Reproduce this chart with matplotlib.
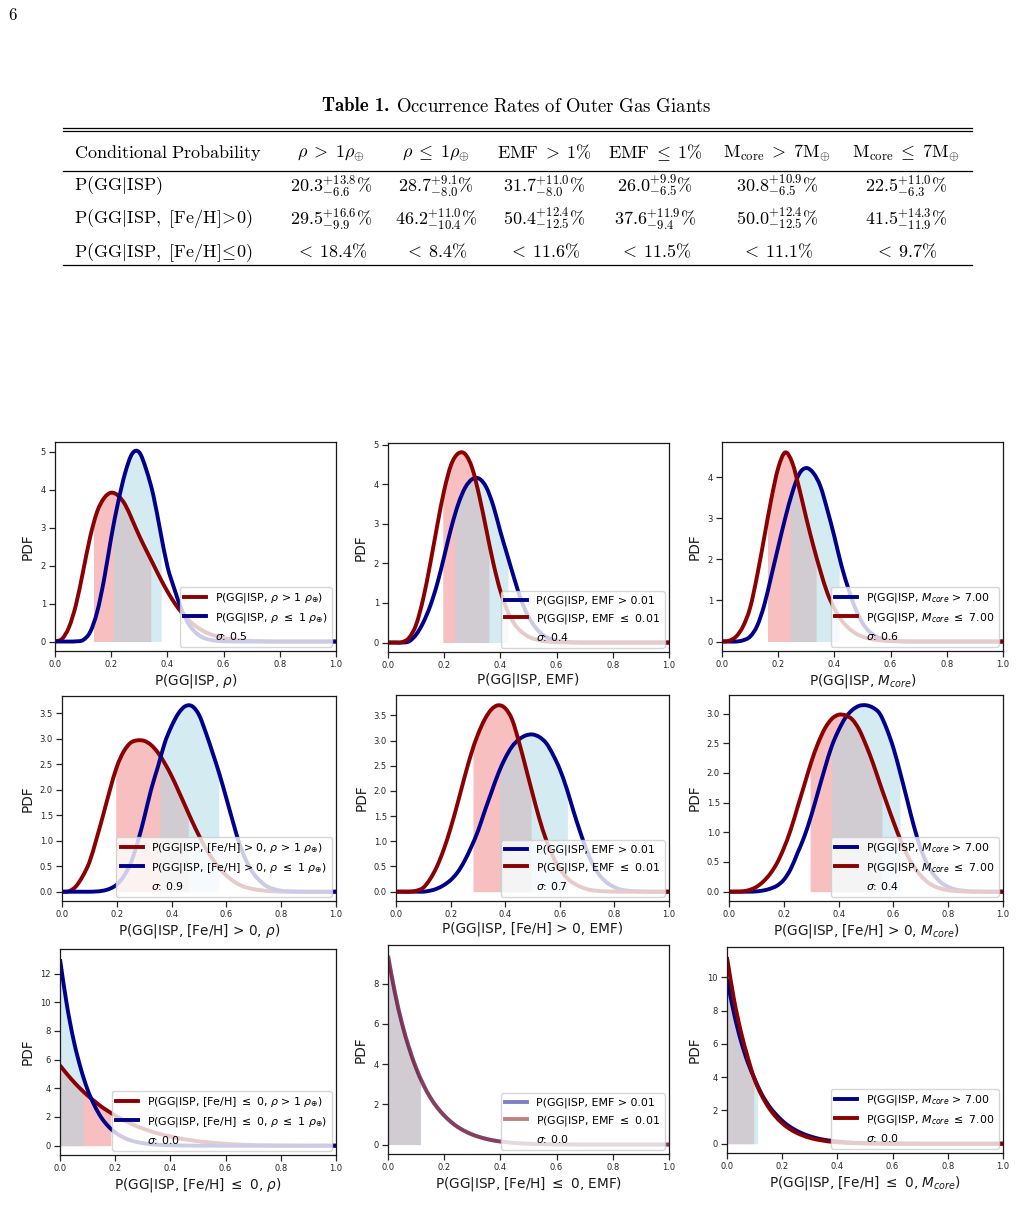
import numpy as np
import matplotlib
matplotlib.use('Agg')
import matplotlib.pyplot as plt
from matplotlib.lines import Line2D
from matplotlib.path import Path
from matplotlib.patches import PathPatch

# ---------------- table data ----------------
TABLE_TITLE_BOLD = 'Table 1.'
TABLE_TITLE_REST = r'$\mathrm{Occurrence\ Rates\ of\ Outer\ Gas\ Giants}$'
TABLE_HEADER = [r'$\mathrm{Conditional\ Probability}$', r'$\rho\;>\;1\rho_{\oplus}$',
                r'$\rho\;\leq\;1\rho_{\oplus}$', r'$\mathrm{EMF}\;>\;1\%$', r'$\mathrm{EMF}\;\leq\;1\%$',
                r'$\mathrm{M_{core}}\;>\;7\mathrm{M}_{\oplus}$', r'$\mathrm{M_{core}}\;\leq\;7\mathrm{M}_{\oplus}$']
ROW_LABELS = [r'$\mathrm{P(GG|ISP)}$', r'$\mathrm{P(GG|ISP,\ [Fe/H]\!>\!0)}$',
              r'$\mathrm{P(GG|ISP,\ [Fe/H]\!\leq\!0)}$']
MED_ALL = [20.3, 28.7, 31.7, 26.0, 30.8, 22.5]
PLUS_ALL = [13.8, 9.1, 11.0, 9.9, 10.9, 11.0]
MINUS_ALL = [6.6, 8.0, 8.0, 6.5, 6.5, 6.3]
MED_FEH = [29.5, 46.2, 50.4, 37.6, 50.0, 41.5]
PLUS_FEH = [16.6, 11.0, 12.4, 11.9, 12.4, 14.3]
MINUS_FEH = [9.9, 10.4, 12.5, 9.4, 12.5, 11.9]
UL_LOWFEH = [18.4, 8.4, 11.6, 11.5, 11.1, 9.7]

# ---------------- PDF curves ----------------
X = [0.0, 0.025, 0.05, 0.075, 0.1, 0.125, 0.15, 0.175, 0.2, 0.225, 0.25, 0.275, 0.3, 0.325,
     0.35, 0.375, 0.4, 0.425, 0.45, 0.475, 0.5, 0.525, 0.55, 0.575, 0.6, 0.625, 0.65, 0.675,
     0.7, 0.725, 0.75, 0.775, 0.8, 0.825, 0.85, 0.875, 0.9, 0.925, 0.95, 0.975, 1.0]

# row 1 : P(GG|ISP, ...)
PDF_RHO_HI = [0, 0.07, 0.38, 0.98, 1.85, 2.75, 3.42, 3.78, 3.92, 3.84, 3.6, 3.2, 2.78, 2.4,
              2.03, 1.66, 1.32, 1.02, 0.77, 0.57, 0.41, 0.29, 0.2, 0.14, 0.09, 0.06, 0.04, 0.025,
              0.015, 0.01, 0.005, 0.002, 0, 0, 0, 0, 0, 0, 0, 0, 0]
PDF_RHO_LO = [0, 0, 0, 0.005, 0.04, 0.25, 0.78, 1.65, 2.74, 3.68, 4.45, 4.95, 4.98, 4.52,
              3.85, 2.9, 1.98, 1.38, 0.85, 0.47, 0.24, 0.11, 0.05, 0.02, 0.008, 0.003, 0, 0,
              0, 0, 0, 0, 0, 0, 0, 0, 0, 0, 0, 0, 0]
PDF_EMF_HI = [0, 0, 0, 0.03, 0.2, 0.5, 0.92, 1.48, 2.18, 2.9, 3.5, 3.92, 4.13, 4.14,
              3.92, 3.45, 2.8, 2.2, 1.6, 1.05, 0.65, 0.38, 0.2, 0.1, 0.05, 0.02, 0.01, 0.003,
              0, 0, 0, 0, 0, 0, 0, 0, 0, 0, 0, 0, 0]
PDF_EMF_LO = [0, 0, 0.01, 0.12, 0.45, 1.1, 1.98, 2.95, 3.85, 4.5, 4.78, 4.76, 4.4, 3.7,
              2.85, 2.0, 1.3, 0.8, 0.47, 0.27, 0.15, 0.08, 0.04, 0.02, 0.01, 0.005, 0, 0,
              0, 0, 0, 0, 0, 0, 0, 0, 0, 0, 0, 0, 0]
PDF_MC_HI = [0, 0, 0, 0.03, 0.12, 0.38, 0.88, 1.58, 2.3, 3.0, 3.62, 4.08, 4.22, 4.1,
             3.78, 3.2, 2.55, 1.85, 1.28, 0.8, 0.45, 0.24, 0.12, 0.055, 0.025, 0.01, 0.004, 0,
             0, 0, 0, 0, 0, 0, 0, 0, 0, 0, 0, 0, 0]
PDF_MC_LO = [0, 0.02, 0.12, 0.37, 0.82, 1.6, 2.52, 3.45, 4.22, 4.6, 4.35, 3.72, 3.0, 2.33,
             1.72, 1.18, 0.8, 0.52, 0.33, 0.2, 0.12, 0.07, 0.04, 0.02, 0.01, 0.005, 0, 0,
             0, 0, 0, 0, 0, 0, 0, 0, 0, 0, 0, 0, 0]

# row 2 : P(GG|ISP, [Fe/H] > 0, ...)
PDF_FEH_RHO_HI = [0, 0.01, 0.1, 0.3, 0.58, 1.02, 1.5, 2.0, 2.45, 2.75, 2.92, 2.97, 2.96, 2.88,
                  2.73, 2.52, 2.27, 1.98, 1.68, 1.38, 1.1, 0.85, 0.64, 0.46, 0.32, 0.21, 0.13, 0.08,
                  0.05, 0.03, 0.015, 0.008, 0.003, 0, 0, 0, 0, 0, 0, 0, 0]
PDF_FEH_RHO_LO = [0, 0, 0, 0, 0, 0.005, 0.02, 0.06, 0.14, 0.3, 0.55, 0.95, 1.45, 2.0,
                  2.45, 2.92, 3.25, 3.5, 3.64, 3.64, 3.47, 3.12, 2.72, 2.3, 1.83, 1.35, 0.9, 0.58,
                  0.35, 0.2, 0.1, 0.05, 0.02, 0.008, 0.003, 0, 0, 0, 0, 0, 0]
PDF_FEH_EMF_HI = [0, 0, 0, 0, 0, 0.02, 0.06, 0.13, 0.23, 0.38, 0.6, 0.88, 1.2, 1.6,
                  1.98, 2.35, 2.65, 2.88, 3.02, 3.1, 3.12, 3.07, 2.95, 2.72, 2.43, 2.05, 1.6, 1.18,
                  0.8, 0.5, 0.3, 0.17, 0.09, 0.04, 0.02, 0.008, 0.003, 0, 0, 0, 0]
PDF_FEH_EMF_LO = [0, 0, 0, 0.02, 0.08, 0.25, 0.5, 0.84, 1.26, 1.74, 2.25, 2.73, 3.12, 3.42,
                  3.62, 3.7, 3.64, 3.42, 2.98, 2.47, 1.95, 1.45, 1.03, 0.7, 0.45, 0.28, 0.17, 0.1,
                  0.05, 0.025, 0.01, 0.005, 0, 0, 0, 0, 0, 0, 0, 0, 0]
PDF_FEH_MC_HI = [0, 0, 0, 0, 0.005, 0.02, 0.05, 0.1, 0.2, 0.38, 0.65, 0.93, 1.28, 1.68,
                 2.08, 2.45, 2.72, 2.93, 3.06, 3.13, 3.14, 3.1, 3.0, 2.75, 2.42, 2.0, 1.55, 1.1,
                 0.72, 0.45, 0.27, 0.15, 0.08, 0.04, 0.02, 0.008, 0.003, 0, 0, 0, 0]
PDF_FEH_MC_LO = [0, 0, 0.005, 0.03, 0.08, 0.17, 0.3, 0.48, 0.73, 1.04, 1.42, 1.8, 2.18, 2.5,
                 2.75, 2.91, 2.98, 2.97, 2.9, 2.73, 2.47, 2.17, 1.83, 1.5, 1.18, 0.88, 0.62, 0.42,
                 0.27, 0.16, 0.09, 0.05, 0.025, 0.012, 0.005, 0, 0, 0, 0, 0, 0]

# row 3 : P(GG|ISP, [Fe/H] <= 0, ...)
PDF_LOW_RHO_HI = [5.6, 5.0, 4.45, 3.95, 3.5, 3.1, 2.72, 2.4, 2.1, 1.83, 1.6, 1.38, 1.2, 1.03,
                  0.88, 0.75, 0.64, 0.54, 0.45, 0.38, 0.31, 0.26, 0.21, 0.17, 0.13, 0.1, 0.08, 0.06,
                  0.045, 0.033, 0.024, 0.016, 0.011, 0.007, 0.004, 0.002, 0.001, 0, 0, 0, 0]
PDF_LOW_RHO_LO = [13.0, 9.8, 7.3, 5.4, 3.9, 2.8, 1.95, 1.35, 0.92, 0.62, 0.41, 0.27, 0.18, 0.11,
                  0.07, 0.045, 0.03, 0.018, 0.01, 0.006, 0.004, 0.002, 0.001, 0, 0, 0, 0, 0,
                  0, 0, 0, 0, 0, 0, 0, 0, 0, 0, 0, 0, 0]
PDF_LOW_EMF_HI = [9.35, 7.5, 6.0, 4.8, 3.8, 3.0, 2.35, 1.85, 1.45, 1.12, 0.86, 0.66, 0.5, 0.38,
                  0.28, 0.21, 0.15, 0.11, 0.08, 0.055, 0.04, 0.028, 0.019, 0.013, 0.009, 0.006, 0.004, 0.003,
                  0.002, 0.0015, 0.001, 0, 0, 0, 0, 0, 0, 0, 0, 0, 0]
PDF_LOW_EMF_LO = [9.4, 7.55, 6.02, 4.8, 3.8, 3.0, 2.35, 1.84, 1.44, 1.11, 0.85, 0.65, 0.49, 0.37,
                  0.28, 0.2, 0.15, 0.11, 0.08, 0.055, 0.04, 0.028, 0.019, 0.013, 0.009, 0.006, 0.004, 0.003,
                  0.002, 0.0015, 0.001, 0, 0, 0, 0, 0, 0, 0, 0, 0, 0]
PDF_LOW_MC_HI = [9.9, 7.85, 6.2, 4.9, 3.9, 3.0, 2.32, 1.8, 1.38, 1.05, 0.8, 0.6, 0.45, 0.33,
                 0.24, 0.18, 0.13, 0.09, 0.065, 0.045, 0.03, 0.021, 0.014, 0.009, 0.006, 0.004, 0.003, 0.002,
                 0.001, 0, 0, 0, 0, 0, 0, 0, 0, 0, 0, 0, 0]
PDF_LOW_MC_LO = [11.2, 8.7, 6.75, 5.2, 3.85, 2.92, 2.2, 1.65, 1.23, 0.91, 0.67, 0.49, 0.35, 0.25,
                 0.18, 0.12, 0.085, 0.058, 0.04, 0.027, 0.018, 0.012, 0.008, 0.005, 0.003, 0.002, 0.001, 0,
                 0, 0, 0, 0, 0, 0, 0, 0, 0, 0, 0, 0, 0]

SIGMAS = [[0.5, 0.4, 0.6], [0.9, 0.7, 0.4], [0.0, 0.0, 0.0]]

RHO_HI_LAB = r'$\rho$ > 1 $\rho_{\oplus}$)'
RHO_LO_LAB = r'$\rho$ $\leq$ 1 $\rho_{\oplus}$)'
EMF_HI_LAB = 'EMF > 0.01'
EMF_LO_LAB = r'EMF $\leq$ 0.01'
MC_HI_LAB = r'$M_{core}$ > 7.00'
MC_LO_LAB = r'$M_{core}$ $\leq$ 7.00'
ROW_PREFIX = ['P(GG|ISP, ', 'P(GG|ISP, [Fe/H] > 0, ', r'P(GG|ISP, [Fe/H] $\leq$ 0, ']
XLAB_VAR = [r'$\rho$', 'EMF', r'$M_{core}$']

# ---------------- figure ----------------
W, H = 1016, 1212
fig = plt.figure(figsize=(W / 100, H / 100), dpi=100)
fig.patch.set_facecolor('white')

def fx(x):
    return x / W

def fy(y):
    return 1 - y / H

# page number
fig.text(fx(8), fy(15), r'$\mathrm{6}$', fontsize=12, ha='left', va='center', math_fontfamily='cm')

# table title: bold "Table 1." followed by the caption
renderer = fig.canvas.get_renderer()
tb = fig.text(0, fy(106), TABLE_TITLE_BOLD, fontsize=13.5, family='cmb10', ha='left', va='center')
tr = fig.text(0, fy(106), TABLE_TITLE_REST, fontsize=13.5, ha='left', va='center', math_fontfamily='cm')
wb = tb.get_window_extent(renderer).width
wr = tr.get_window_extent(renderer).width
gap = 7
start = 517 - (wb + gap + wr) / 2
tb.set_x(fx(start))
tr.set_x(fx(start + wb + gap))

for yy in [128, 131, 171, 265]:
    fig.add_artist(Line2D([fx(63), fx(972)], [fy(yy), fy(yy)], color='black', lw=0.9))
col_x = [74, 331, 436, 544, 655, 777, 906]
row_y = [186, 219, 252]
for j, htxt in enumerate(TABLE_HEADER):
    fig.text(fx(col_x[j]), fy(153), htxt, fontsize=13, ha='left' if j == 0 else 'center',
             va='center', math_fontfamily='cm')
for i, lab in enumerate(ROW_LABELS):
    fig.text(fx(col_x[0]), fy(row_y[i]), lab, fontsize=13, ha='left', va='center', math_fontfamily='cm')
for j in range(6):
    t1 = r'$%.1f^{+%.1f}_{-%.1f}\%%$' % (MED_ALL[j], PLUS_ALL[j], MINUS_ALL[j])
    t2 = r'$%.1f^{+%.1f}_{-%.1f}\%%$' % (MED_FEH[j], PLUS_FEH[j], MINUS_FEH[j])
    t3 = r'$<\;%.1f\%%$' % UL_LOWFEH[j]
    for i, t in enumerate([t1, t2, t3]):
        fig.text(fx(col_x[j + 1]), fy(row_y[i]), t, fontsize=13, ha='center', va='center',
                 math_fontfamily='cm')

# panels
AX_BOX = [[(55, 442, 336, 651), (388, 443, 669, 652), (722, 442, 1003, 651)],
          [(62, 696, 336, 901), (396, 695, 669, 901), (729, 695, 1003, 901)],
          [(60, 949, 336, 1155), (388, 945, 669, 1154), (727, 947, 1003, 1153)]]

RED = '#8b0000'
BLUE = '#00008b'
xarr = np.array(X)

CURVES = [[PDF_RHO_HI, PDF_RHO_LO, PDF_EMF_HI, PDF_EMF_LO, PDF_MC_HI, PDF_MC_LO],
          [PDF_FEH_RHO_HI, PDF_FEH_RHO_LO, PDF_FEH_EMF_HI, PDF_FEH_EMF_LO, PDF_FEH_MC_HI, PDF_FEH_MC_LO],
          [PDF_LOW_RHO_HI, PDF_LOW_RHO_LO, PDF_LOW_EMF_HI, PDF_LOW_EMF_LO, PDF_LOW_MC_HI, PDF_LOW_MC_LO]]

def bounds(r, j):
    if r == 0:
        return (MED_ALL[j] - MINUS_ALL[j]) / 100, (MED_ALL[j] + PLUS_ALL[j]) / 100
    if r == 1:
        return (MED_FEH[j] - MINUS_FEH[j]) / 100, (MED_FEH[j] + PLUS_FEH[j]) / 100
    return 0.0, UL_LOWFEH[j] / 100

def fill_under(ax, y, lo, hi, color):
    yarr = np.array(y, dtype=float)
    inner = xarr[(xarr > lo) & (xarr < hi)]
    xs = np.concatenate([[lo], inner, [hi]])
    ys = np.interp(xs, xarr, yarr)
    ax.fill_between(xs, 0, ys, color=color, alpha=0.5, lw=0, zorder=1)

def smooth_path(x, y):
    """Cubic Bezier (Catmull-Rom tangents) path passing through every read point."""
    x = np.asarray(x, float)
    y = np.asarray(y, float)
    h = np.diff(x)
    m = np.zeros_like(y)
    m[0] = (y[1] - y[0]) / h[0]
    m[-1] = (y[-1] - y[-2]) / h[-1]
    m[1:-1] = (y[2:] - y[:-2]) / (x[2:] - x[:-2])
    verts = [(x[0], y[0])]
    codes = [Path.MOVETO]
    for k in range(len(x) - 1):
        verts += [(x[k] + h[k] / 3, y[k] + m[k] * h[k] / 3),
                  (x[k + 1] - h[k] / 3, y[k + 1] - m[k + 1] * h[k] / 3),
                  (x[k + 1], y[k + 1])]
        codes += [Path.CURVE4, Path.CURVE4, Path.CURVE4]
    return Path(verts, codes)

for r in range(3):
    for c in range(3):
        x0, y0, x1, y1 = AX_BOX[r][c]
        ax = fig.add_axes([fx(x0), fy(y1), (x1 - x0) / W, (y1 - y0) / H])
        if c == 0:
            order = [(0, RED, RHO_HI_LAB), (1, BLUE, RHO_LO_LAB)]
        elif c == 1:
            order = [(2, BLUE, EMF_HI_LAB), (3, RED, EMF_LO_LAB)]
        else:
            order = [(4, BLUE, MC_HI_LAB), (5, RED, MC_LO_LAB)]
        # fills: red first, blue on top
        for j, col, _ in sorted(order, key=lambda t: 0 if t[1] == RED else 1):
            lo, hi = bounds(r, j)
            fill_under(ax, CURVES[r][j], lo, hi, 'lightcoral' if col == RED else 'lightblue')
        alpha = 0.5 if (r == 2 and c == 1) else 1.0
        ymax = 0.0
        for j, col, lab in order:
            yv = CURVES[r][j]
            ymax = max(ymax, max(yv))
            ax.add_patch(PathPatch(smooth_path(xarr, yv), fill=False, edgecolor=col, lw=2.8,
                                   alpha=alpha, capstyle='butt', joinstyle='round', zorder=2))
            ax.plot([], [], color=col, lw=2.8, alpha=alpha,
                    label=ROW_PREFIX[r] + lab if c == 0 else 'P(GG|ISP, ' + lab)
        ax.plot([], [], ' ', label=r'$\sigma$: %.1f' % SIGMAS[r][c])
        ax.set_xlim(0, 1)
        ax.set_ylim(-0.05 * ymax, 1.055 * ymax)
        ax.set_xlabel(ROW_PREFIX[r] + XLAB_VAR[c] + ')', fontsize=9.8, color='#1a1a1a', labelpad=2)
        ax.set_ylabel('PDF', fontsize=9.8, color='#1a1a1a')
        ax.tick_params(direction='out', length=4.5, width=0.9, labelsize=6.0, colors='#262626', pad=2)
        for s in ax.spines.values():
            s.set_linewidth(0.9)
            s.set_color('#1a1a1a')
        ax.legend(loc='lower right', fontsize=7.9, framealpha=0.8, handlelength=2.0,
                  borderaxespad=0.4)

fig.savefig('out.png', dpi=100, facecolor='white')
